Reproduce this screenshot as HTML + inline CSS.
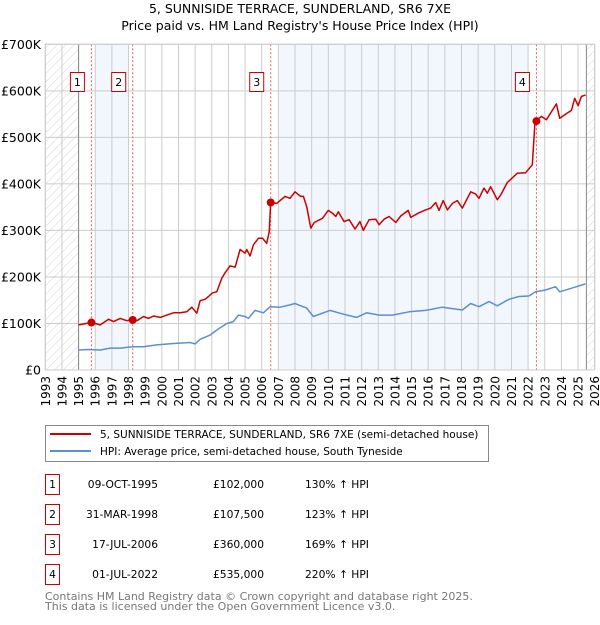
<!DOCTYPE html>
<html><head><meta charset="utf-8"><style>
body{margin:0;background:#fff;font-family:"Liberation Sans","DejaVu Sans",sans-serif;}
svg text{font-family:"DejaVu Sans","Liberation Sans",sans-serif;}
</style></head><body>
<svg id="chart" width="600" height="620" xmlns="http://www.w3.org/2000/svg">
<defs><pattern id="hatch" width="6" height="6" patternUnits="userSpaceOnUse" patternTransform="rotate(45)"><line x1="0" y1="0" x2="0" y2="6" stroke="#d4d4d4" stroke-width="1"/></pattern></defs>
<text x="300" y="13" text-anchor="middle" font-size="12.5">5, SUNNISIDE TERRACE, SUNDERLAND, SR6 7XE</text>
<text x="300" y="30" text-anchor="middle" font-size="12.5">Price paid vs. HM Land Registry's House Price Index (HPI)</text>
<g id="plot"></g>
<rect x="45.5" y="425.5" width="443" height="36" fill="#fff" stroke="#888"/>
<line x1="50" y1="434" x2="91" y2="434" stroke="#cc0000" stroke-width="2"/>
<text x="100" y="438" font-size="10.5">5, SUNNISIDE TERRACE, SUNDERLAND, SR6 7XE (semi-detached house)</text>
<line x1="50" y1="451" x2="91" y2="451" stroke="#5b8fd4" stroke-width="2"/>
<text x="100" y="455" font-size="10.5">HPI: Average price, semi-detached house, South Tyneside</text>
<g id="table" font-size="10.7"></g>
<text x="45" y="600" font-size="11" fill="#777">Contains HM Land Registry data © Crown copyright and database right 2025.</text>
<text x="45" y="610" font-size="11" fill="#777">This data is licensed under the Open Government Licence v3.0.</text>
</svg>
<script>
const yTicks=[0,100,200,300,400,500,600,700];
const yTickLabels=["£0","£100K","£200K","£300K","£400K","£500K","£600K","£700K"];
const xYears=[1993,1994,1995,1996,1997,1998,1999,2000,2001,2002,2003,2004,2005,2006,2007,2008,2009,2010,2011,2012,2013,2014,2015,2016,2017,2018,2019,2020,2021,2022,2023,2024,2025,2026];
const saleYears=[1995.77,1998.25,2006.54,2022.5];
const saleValues=[102,107.5,360,535];
const saleLabels=["1","2","3","4"];
const saleDates=["09-OCT-1995","31-MAR-1998","17-JUL-2006","01-JUL-2022"];
const salePrices=["£102,000","£107,500","£360,000","£535,000"];
const saleHpi=["130% ↑ HPI","123% ↑ HPI","169% ↑ HPI","220% ↑ HPI"];
const bandStarts=[1996,2007];
const bandEnds=[1998,2022];
const redYears=[1995.0,1995.77,1996.3,1996.8,1997.1,1997.5,1997.9,1998.25,1998.5,1998.9,1999.2,1999.5,1999.9,2000.3,2000.7,2001.1,2001.5,2001.8,2002.1,2002.3,2002.6,2002.8,2003.05,2003.3,2003.6,2003.8,2004.1,2004.4,2004.7,2005.0,2005.1,2005.3,2005.5,2005.8,2006.05,2006.3,2006.45,2006.54,2006.9,2007.4,2007.7,2008.0,2008.34,2008.5,2008.7,2008.95,2009.15,2009.65,2010.0,2010.25,2010.45,2010.6,2010.95,2011.25,2011.6,2011.9,2012.1,2012.45,2012.85,2013.05,2013.35,2013.65,2014.05,2014.35,2014.8,2014.95,2015.45,2015.85,2016.15,2016.45,2016.65,2016.9,2017.15,2017.45,2017.75,2018.05,2018.55,2018.85,2019.05,2019.35,2019.55,2019.75,2020.15,2020.35,2020.75,2021.35,2021.85,2022.25,2022.4,2022.5,2022.8,2023.1,2023.7,2023.9,2024.3,2024.6,2024.8,2025.0,2025.2,2025.45];
const redValues=[97,102,97,109,104,111,106,109,106,115,111,116,113,118,123,123,125,135,122,149,152,158,166,168,197,209,224,221,259,251,259,245,269,283,283,272,297,360,358,373,369,383,373,373,351,305,317,326,343,337,330,340,319,323,303,319,300,323,324,312,324,330,317,331,343,328,338,344,348,360,343,364,344,358,364,348,383,378,369,391,380,394,366,376,403,423,424,441,527,536,545,538,572,541,551,558,584,568,588,591];
const blueYears=[1995.0,1995.6,1996.3,1996.9,1997.5,1998.25,1998.9,1999.7,2000.7,2001.7,2002.0,2002.3,2002.9,2003.3,2003.9,2004.3,2004.6,2005.0,2005.2,2005.6,2006.1,2006.5,2007.1,2007.7,2008.0,2008.34,2008.7,2009.1,2010.1,2010.9,2011.7,2012.3,2013.05,2013.85,2014.85,2015.85,2016.85,2018.05,2018.55,2019.05,2019.65,2020.15,2020.85,2021.45,2022.05,2022.45,2023.05,2023.65,2023.9,2024.9,2025.45];
const blueValues=[43,44,43,47,47,50,50,54,57,59,56,66,75,86,100,104,118,115,111,128,123,136,135,140,143,138,133,115,128,120,113,123,118,118,125,128,135,129,143,136,147,138,152,158,159,168,172,179,168,179,185];

const NS="http://www.w3.org/2000/svg";
const L=45.3,R=594.7,T=44.3,B=370;
const X=y=>L+(y-1993)/33*(R-L);
const Y=v=>B-v/700*(B-T);
function mk(tag,attrs,parent){const e=document.createElementNS(NS,tag);for(const k in attrs)e.setAttribute(k,attrs[k]);parent.appendChild(e);return e;}
const g=document.getElementById('plot');
let e;
bandStarts.forEach((s,i)=>{
 e=mk('rect',{x:X(s),y:T,width:X(bandEnds[i])-X(s),height:B-T,fill:'#f2f6fd'},g);
 
 
});
e=mk('rect',{x:L,y:T,width:X(1995)-L,height:B-T,fill:'url(#hatch)'},g);


e=mk('rect',{x:X(2025.5),y:T,width:R-X(2025.5),height:B-T,fill:'url(#hatch)'},g);


xYears.forEach(yr=>{
 e=mk('line',{x1:X(yr),x2:X(yr),y1:T,y2:B,stroke:'#cccccc','stroke-width':1},g);
 
 
 e=mk('text',{x:0,y:0,transform:`translate(${X(yr)+4.5},376) rotate(-90)`,'text-anchor':'end','font-size':12},g);
 e.textContent=yr;
 
 
});
yTicks.forEach((v,i)=>{
 e=mk('line',{x1:L,x2:R,y1:Y(v),y2:Y(v),stroke:'#cccccc','stroke-width':1},g);
 
 
 e=mk('text',{x:41,y:Y(v)+4.5,'text-anchor':'end','font-size':12.5},g);
 e.textContent=yTickLabels[i];
 
 
});
e=mk('line',{x1:X(1995),x2:X(1995),y1:T,y2:B,stroke:'#888'},g);


e=mk('line',{x1:X(2025.5),x2:X(2025.5),y1:T,y2:B,stroke:'#888'},g);


saleYears.forEach((yr,i)=>{
 e=mk('line',{x1:X(yr),x2:X(yr),y1:T,y2:B,stroke:'#e06060','stroke-width':1,'stroke-dasharray':'2,2'},g);
 
 
 e=mk('rect',{x:X(yr)-21,y:72.5,width:14,height:19,fill:'#fff',stroke:'#cc0000'},g);
 
 
 e=mk('text',{x:X(yr)-14,y:86,'text-anchor':'middle','font-size':11},g);
 e.textContent=saleLabels[i];
 
 
});
function line(xs,vs,color,name){
 const d=xs.map((x,i)=>(i?'L':'M')+X(x).toFixed(1)+','+Y(vs[i]).toFixed(1)).join('');
 const p=mk('path',{d:d,fill:'none',stroke:color,'stroke-width':1.5,'stroke-linejoin':'round'},g);
 
 
}
line(blueYears,blueValues,'#5b8fd4','hpi-line');
line(redYears,redValues,'#cc0000','property-price-line');
saleYears.forEach((yr,i)=>{
 e=mk('circle',{cx:X(yr),cy:Y(saleValues[i]),r:4,fill:'#cc0000'},g);
 
 
});
e=mk('rect',{x:L,y:T,width:R-L,height:B-T,fill:'none',stroke:'#ccc'},g);


const tb=document.getElementById('table');
saleLabels.forEach((lab,i)=>{
 const cy=483+i*30;
 e=mk('rect',{x:45.5,y:cy-8.5,width:14,height:20,fill:'#fff',stroke:'#cc0000'},tb);
 
 
 e=mk('text',{x:52.5,y:cy+5,'text-anchor':'middle'},tb);e.textContent=lab;
 
 
 e=mk('text',{x:158,y:cy+5,'text-anchor':'end'},tb);e.textContent=saleDates[i];
 
 
 e=mk('text',{x:264,y:cy+5,'text-anchor':'end'},tb);e.textContent=salePrices[i];
 
 
 e=mk('text',{x:305,y:cy+5},tb);e.textContent=saleHpi[i];
 
 
});
</script>
</body></html>
